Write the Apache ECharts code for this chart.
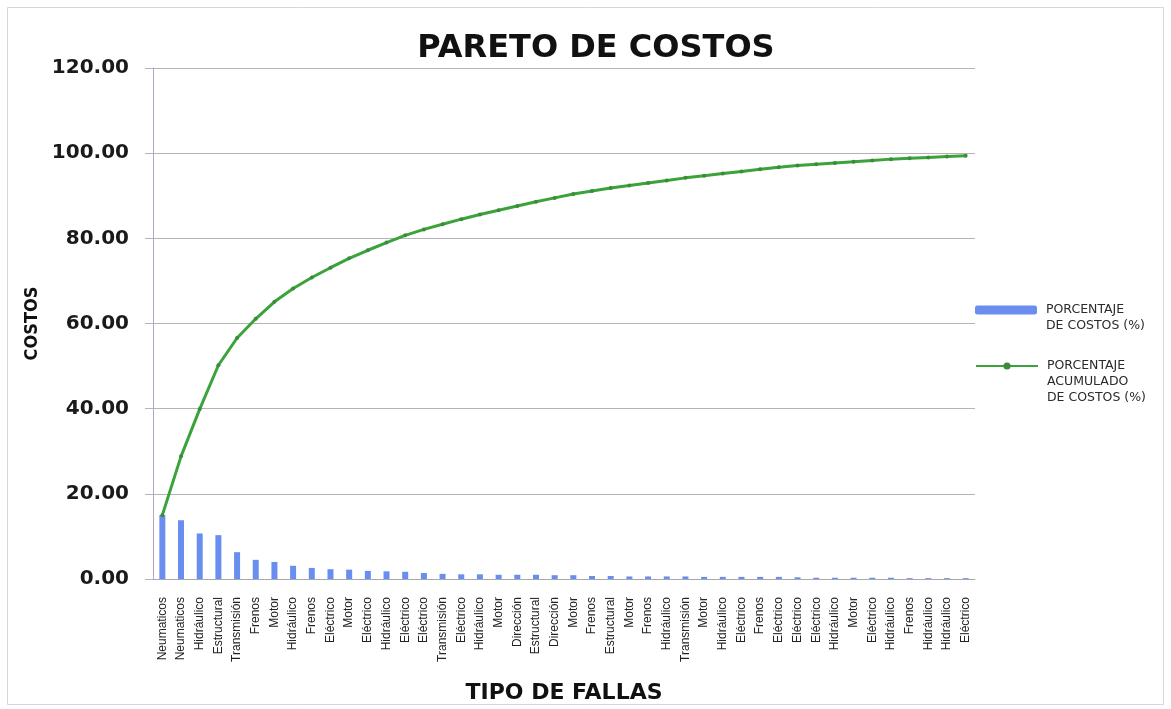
<!DOCTYPE html>
<html>
<head>
<meta charset="utf-8">
<script src="https://cdn.jsdelivr.net/npm/echarts@6/dist/echarts.min.js"></script>
<style>
html,body{margin:0;padding:0;background:#fff;}
#chart{width:1171px;height:709px;}
</style>
</head>
<body>
<div id="chart"></div>
<script>
var categories = ["Neumaticos","Neumaticos","Hidráulico","Estructural","Transmisión","Frenos","Motor","Hidráulico","Frenos","Eléctrico","Motor","Eléctrico","Hidráulico","Eléctrico","Eléctrico","Transmisión","Eléctrico","Hidráulico","Motor","Dirección","Estructural","Dirección","Motor","Frenos","Estructural","Motor","Frenos","Hidráulico","Transmisión","Motor","Hidráulico","Eléctrico","Frenos","Eléctrico","Eléctrico","Eléctrico","Hidráulico","Motor","Eléctrico","Hidráulico","Frenos","Hidráulico","Hidráulico","Eléctrico"];
var porcentaje = [15.0,13.8,10.7,10.3,6.3,4.5,4.0,3.1,2.6,2.3,2.2,1.9,1.8,1.7,1.4,1.2,1.1,1.1,1.0,1.0,1.0,0.9,0.9,0.7,0.7,0.6,0.6,0.6,0.6,0.5,0.5,0.5,0.5,0.5,0.4,0.3,0.3,0.3,0.3,0.3,0.2,0.2,0.2,0.2];
var acumulado = [15.0,28.8,39.9,50.2,56.6,61.1,65.1,68.2,70.8,73.1,75.3,77.2,79.0,80.7,82.1,83.3,84.5,85.6,86.6,87.6,88.6,89.5,90.4,91.1,91.8,92.4,93.0,93.6,94.2,94.7,95.2,95.7,96.2,96.7,97.1,97.4,97.7,98.0,98.3,98.6,98.8,99.0,99.2,99.4];
var yTicks = [0,20,40,60,80,100,120];

var nameBar = "PORCENTAJE\nDE COSTOS (%)";
var nameLine = "PORCENTAJE\nACUMULADO\nDE COSTOS (%)";

function indentLines(n){ return n.split('\n').map(function(s){ return ' ' + s; }).join('\n'); }

var chart = echarts.init(document.getElementById('chart'), null, {renderer:'canvas'});
var legendText = {fontFamily:'DejaVu Sans', fontSize:12.5, color:'#2a2a2a', lineHeight:16};
chart.setOption({
  backgroundColor:'#ffffff',
  animation:false,
  title:{
    text:'PARETO DE COSTOS',
    left:591, top:28, textAlign:'center',
    textStyle:{fontFamily:'DejaVu Sans', fontWeight:'bold', fontSize:32, color:'#111'}
  },
  graphic:[{
    type:'rect', shape:{x:7.5,y:7.5,width:1156,height:697},
    style:{fill:'none', stroke:'#d6d6d6', lineWidth:1}, silent:true
  }],
  legend:[{
    orient:'vertical', left:970, top:281,
    itemWidth:62, itemHeight:9,
    data:[{name:nameBar, icon:'roundRect'}],
    formatter:function(n){ return '\n' + indentLines(n); },
    textStyle:legendText
  },{
    orient:'vertical', left:970, top:321,
    itemWidth:62, itemHeight:9,
    data:[{name:nameLine}],
    formatter:function(n){ return '\n\n' + indentLines(n); },
    textStyle:legendText
  }],
  grid:{left:153, right:196, top:68, bottom:128, containLabel:false},
  xAxis:{
    type:'category', data:categories, boundaryGap:true,
    name:'TIPO DE FALLAS', nameLocation:'middle', nameGap:103,
    nameTextStyle:{fontFamily:'DejaVu Sans', fontWeight:'bold', fontSize:22, color:'#111'},
    axisLine:{lineStyle:{color:'#a8a8a8', width:1}},
    axisTick:{show:false},
    axisLabel:{interval:0, rotate:90, fontFamily:'Liberation Sans', fontSize:12, color:'#222', margin:18}
  },
  yAxis:{
    type:'value', min:0, max:120, interval:20,
    name:'COSTOS', nameLocation:'middle', nameGap:106, nameRotate:90,
    nameTextStyle:{fontFamily:'DejaVu Sans Condensed', fontWeight:'bold', fontSize:18, color:'#111'},
    axisLine:{show:true, lineStyle:{color:'#b9a3c9', width:1}},
    axisTick:{show:true, length:8, lineStyle:{color:'#b3b3b3'}},
    splitLine:{lineStyle:{color:'#b3b3b3', width:1}},
    axisLabel:{fontFamily:'DejaVu Sans', fontWeight:'bold', fontSize:20, color:'#1a1a1a', margin:24,
      formatter:function(v){ return yTicks.indexOf(v) >= 0 ? v.toFixed(2) : ''; }}
  },
  series:[{
    name:nameBar, type:'bar', data:porcentaje, barWidth:6,
    itemStyle:{color:'#6a8ef0'}
  },{
    name:nameLine, type:'line', data:acumulado,
    symbol:'circle', symbolSize:4,
    lineStyle:{color:'#3aa33a', width:3},
    itemStyle:{color:'#3d8a3d'}
  }]
});
</script>
</body>
</html>
